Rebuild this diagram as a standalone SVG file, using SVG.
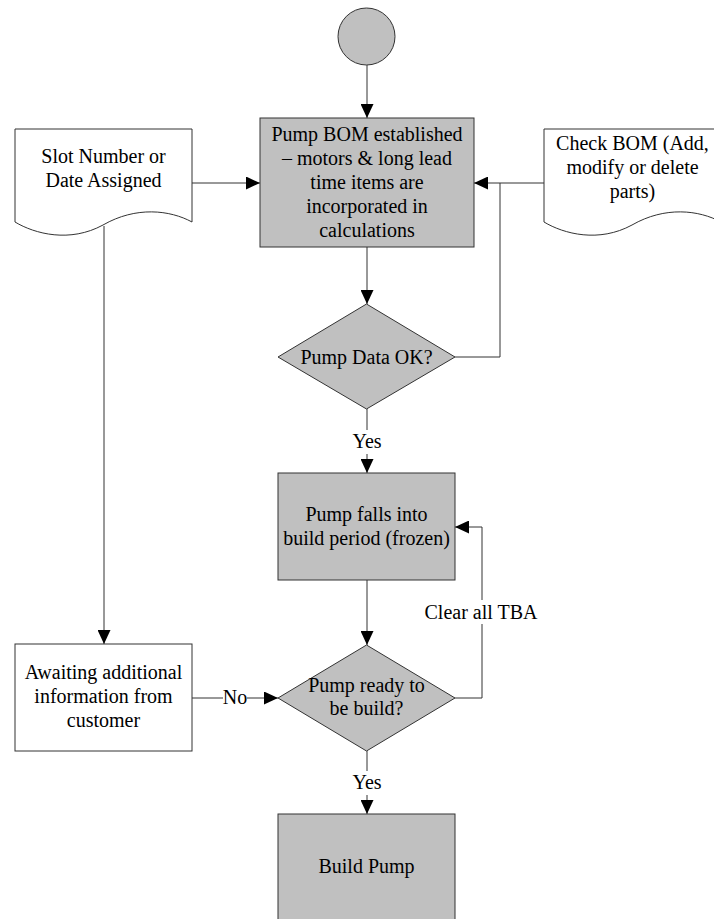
<svg xmlns="http://www.w3.org/2000/svg" width="714" height="919" viewBox="0 0 714 919">
<style>
.g{fill:#c0c0c0;stroke:#333;stroke-width:1}
.w{fill:#fff;stroke:#333;stroke-width:1}
.c{fill:none;stroke:#333;stroke-width:1}
text{font-family:'Liberation Serif','Times New Roman',Tinos,'DejaVu Serif',serif;font-size:20px;fill:#000;text-anchor:middle}
.lb{fill:#fff;stroke:none}
</style>
<defs>
<marker id="ah" markerUnits="userSpaceOnUse" markerWidth="14" markerHeight="13" refX="14" refY="6.5" orient="auto">
<path d="M0,0 L14,6.5 L0,13 z" fill="#000"/>
</marker>
</defs>
<g id="connectors">
<line class="c" x1="367" y1="65" x2="367" y2="118" marker-end="url(#ah)"/>
<line class="c" x1="192" y1="183" x2="260" y2="183" marker-end="url(#ah)"/>
<line class="c" x1="544" y1="183" x2="474" y2="183" marker-end="url(#ah)"/>
<polyline class="c" points="455,357 500,357 500,183"/>
<line class="c" x1="367" y1="247" x2="367" y2="304" marker-end="url(#ah)"/>
<line class="c" x1="367" y1="409" x2="367" y2="473" marker-end="url(#ah)"/>
<rect class="lb" x="348" y="430" width="38" height="24"/>
<text x="367" y="448" font-family="Liberation Serif, serif">Yes</text>
<line class="c" x1="367" y1="580" x2="367" y2="645" marker-end="url(#ah)"/>
<polyline class="c" points="455,698 482,698 482,527 455,527" marker-end="url(#ah)"/>
<rect class="lb" x="423" y="600" width="116" height="24"/>
<text x="481" y="619">Clear all TBA</text>
<line class="c" x1="104" y1="226" x2="104" y2="644" marker-end="url(#ah)"/>
<line class="c" x1="192" y1="698" x2="278" y2="698" marker-end="url(#ah)"/>
<rect class="lb" x="223" y="686" width="24" height="24"/>
<text x="235" y="704">No</text>
<line class="c" x1="367" y1="751" x2="367" y2="814" marker-end="url(#ah)"/>
<rect class="lb" x="348" y="771" width="38" height="24"/>
<text x="367" y="789">Yes</text>
</g>
<g id="start">
<circle class="g" cx="366.5" cy="36.5" r="28.5"/>
</g>
<g id="bom">
<rect class="g" x="260" y="118" width="214" height="129"/>
<text x="367" y="141">Pump BOM established</text>
<text x="367" y="165">– motors &amp; long lead</text>
<text x="367" y="189">time items are</text>
<text x="367" y="213">incorporated in</text>
<text x="367" y="237">calculations</text>
</g>
<g id="slot">
<path class="w" d="M15,129 H192 V222 C170,210 136,206 103,225 C70,243 35,234 15,222 Z"/>
<text x="103.5" y="163">Slot Number or</text>
<text x="103.5" y="187">Date Assigned</text>
</g>
<g id="check">
<path class="w" d="M544,129 H721 V222 C699,210 665,206 632,225 C599,243 564,234 544,222 Z"/>
<text x="632.5" y="150">Check BOM (Add,</text>
<text x="632.5" y="174">modify or delete</text>
<text x="632.5" y="198">parts)</text>
</g>
<g id="dataok">
<polygon class="g" points="366.5,304 455,357 366.5,409 278,357"/>
<text x="366.5" y="364">Pump Data OK?</text>
</g>
<g id="frozen">
<rect class="g" x="278" y="473" width="177" height="107"/>
<text x="366.5" y="521">Pump falls into</text>
<text x="366.5" y="545">build period (frozen)</text>
</g>
<g id="ready">
<polygon class="g" points="366.5,645 455,698 366.5,751 278,698"/>
<text x="366.5" y="692">Pump ready to</text>
<text x="366.5" y="715">be build?</text>
</g>
<g id="awaiting">
<rect class="w" x="15" y="644" width="177" height="107"/>
<text x="103.5" y="679">Awaiting additional</text>
<text x="103.5" y="703">information from</text>
<text x="103.5" y="727">customer</text>
</g>
<g id="build">
<rect class="g" x="278" y="814" width="177" height="108"/>
<text x="366.5" y="873">Build Pump</text>
</g>
</svg>
